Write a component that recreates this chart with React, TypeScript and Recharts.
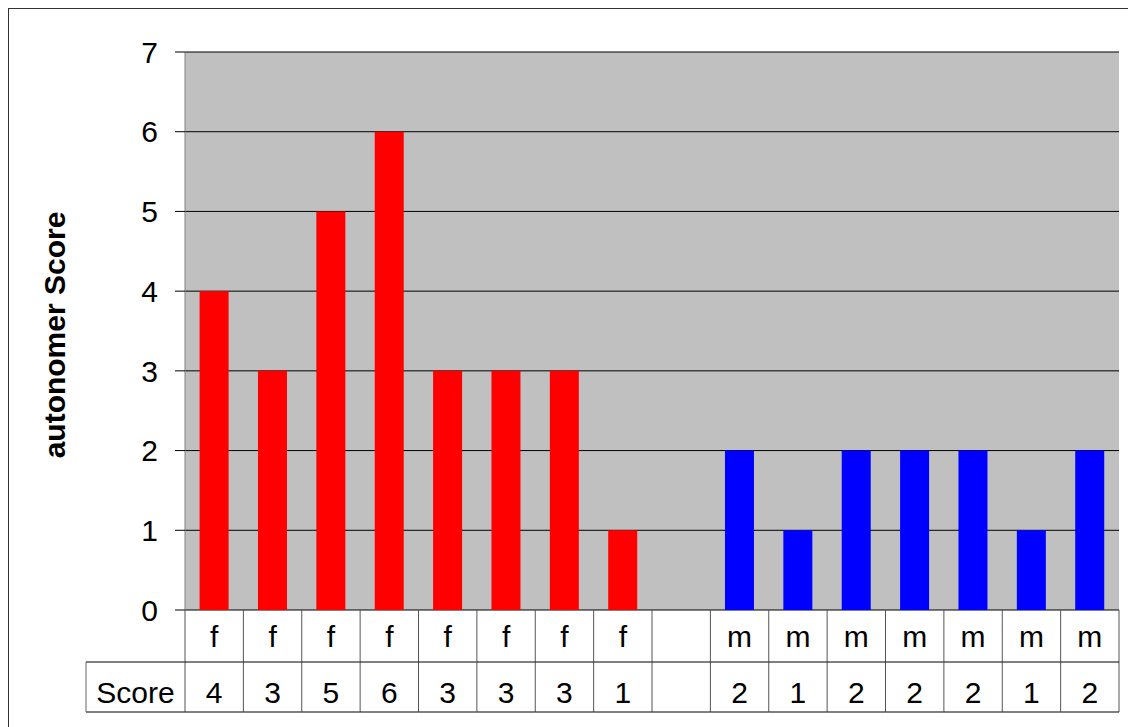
import { BarChart, Bar, Cell, XAxis, YAxis, CartesianGrid, Label } from "recharts";

const groups = ["f", "f", "f", "f", "f", "f", "f", "f", "", "m", "m", "m", "m", "m", "m", "m"];
const scores: (number | null)[] = [4, 3, 5, 6, 3, 3, 3, 1, null, 2, 1, 2, 2, 2, 1, 2];
const yTicks = [0, 1, 2, 3, 4, 5, 6, 7];

const COLORS: Record<string, string> = {
  f: "#ff0000",
  m: "#0000ff",
};

const W = 1128;
const H = 727;
const M = { top: 52, right: 9, bottom: 0, left: 0 };
const Y_AXIS_W = 185;
const X_AXIS_H = 117;
const COL_W = (W - M.right - M.left - Y_AXIS_W) / groups.length;
const ROW_H = [52, 50];
const SCORE_CELL_W = 99;
const FONT = "'Liberation Sans', Arial, sans-serif";
const FS = 30;

const data = groups.map((g, i) => ({ key: String(i), group: g, value: scores[i] }));

function TableTick(props: any) {
  const { x, y, index } = props;
  const row = data[index];
  const left = x - COL_W / 2;
  const y1 = y + ROW_H[0];
  const y2 = y1 + ROW_H[1];
  const last = index === data.length - 1;
  return (
    <g fontFamily={FONT} fontSize={FS} fill="#000">
      {index === 0 && (
        <g>
          <line x1={left - SCORE_CELL_W} x2={left} y1={y1} y2={y1} stroke="#000" />
          <line x1={left - SCORE_CELL_W} x2={left} y1={y2} y2={y2} stroke="#000" />
          <line x1={left - SCORE_CELL_W} x2={left - SCORE_CELL_W} y1={y1} y2={y2} stroke="#666" />
          <text x={left - SCORE_CELL_W / 2} y={y1 + 41} textAnchor="middle">
            Score
          </text>
        </g>
      )}
      <line x1={left} x2={left} y1={y} y2={y2} stroke="#555" />
      {last && <line x1={left + COL_W} x2={left + COL_W} y1={y} y2={y2} stroke="#555" />}
      <line x1={left} x2={left + COL_W} y1={y1} y2={y1} stroke="#000" />
      <line x1={left} x2={left + COL_W} y1={y2} y2={y2} stroke="#000" />
      <text x={x} y={y + 37} textAnchor="middle">
        {row.group}
      </text>
      <text x={x} y={y1 + 41} textAnchor="middle">
        {row.value ?? ""}
      </text>
    </g>
  );
}

export default function App() {
  return (
    <div
      style={{
        position: "fixed",
        inset: 0,
        overflow: "hidden",
        background: "#fff",
        fontFamily: FONT,
      }}
    >
      <div
        style={{
          position: "absolute",
          left: 8,
          top: 8,
          width: 1300,
          height: 900,
          border: "1px solid #333",
          boxSizing: "border-box",
        }}
      />
      <div style={{ position: "absolute", left: 0, top: 0 }}>
        <BarChart width={W} height={H} data={data} margin={M} barCategoryGap="25%">
          <CartesianGrid vertical={false} stroke="#000" fill="#c0c0c0" />
          <XAxis
            dataKey="key"
            height={X_AXIS_H}
            axisLine={false}
            tickLine={false}
            tickSize={0}
            tickMargin={0}
            interval={0}
            tick={<TableTick />}
          />
          <YAxis
            width={Y_AXIS_W}
            domain={[0, 7]}
            ticks={yTicks}
            interval={0}
            axisLine={{ stroke: "#808080" }}
            tickLine={{ stroke: "#000" }}
            tickSize={10}
            tickMargin={17}
            tick={{ fill: "#000", fontSize: FS, fontFamily: FONT }}
          >
            <Label
              content={({ viewBox }: any) => {
                const cx = viewBox.x + 65;
                const cy = viewBox.y + viewBox.height / 2 + 4;
                return (
                  <text
                    x={cx}
                    y={cy}
                    transform={`rotate(-90 ${cx} ${cy})`}
                    textAnchor="middle"
                    fontFamily={FONT}
                    fontSize={30}
                    fontWeight="bold"
                    fill="#000"
                  >
                    autonomer Score
                  </text>
                );
              }}
            />
          </YAxis>
          <Bar dataKey="value" isAnimationActive={false}>
            {data.map((d) => (
              <Cell key={d.key} fill={COLORS[d.group] ?? "#000"} />
            ))}
          </Bar>
        </BarChart>
      </div>
    </div>
  );
}
